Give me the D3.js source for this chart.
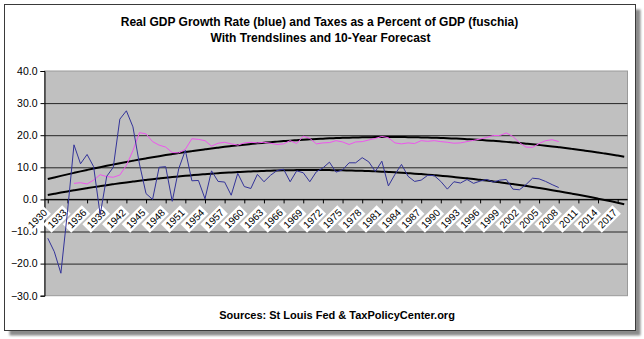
<!DOCTYPE html>
<html>
<head>
<meta charset="utf-8">
<script src="https://cdn.jsdelivr.net/npm/d3@7"></script>
<style>
  body { margin: 0; background: #fff; }
  svg { display: block; font-family: "Liberation Sans", Arial, sans-serif; }
</style>
</head>
<body>
<svg id="chart" width="644" height="339"></svg>
<script>
// Category axis: one slot per year, data through 2008 plus a 10-year forecast
const categories = d3.range(1930, 2019);
const tickLabels = ["1930","1933","1936","1939","1942","1945","1948","1951","1954","1957",
  "1960","1963","1966","1969","1972","1975","1978","1981","1984","1987","1990","1993",
  "1996","1999","2002","2005","2008","2011","2014","2017"];
const yTicks = [-30, -20, -10, 0, 10, 20, 30, 40];

// GDP growth rate (%), 1930-2008
const gdpYears = d3.range(1930, 2009);
const gdpGrowth = [
  -12.1, -16.3, -23.0, -4.0, 17.0, 11.1, 14.0, 10.2, -4.8, 7.2,
  10.0, 25.0, 27.6, 22.6, 11.0, 1.8, 0.0, 10.0, 10.2, -0.6,
  9.6, 15.3, 5.8, 5.9, 0.2, 8.9, 5.6, 5.4, 1.3, 8.1,
  4.0, 3.4, 7.8, 5.5, 7.5, 9.0, 9.4, 5.5, 8.9, 8.3,
  5.5, 8.6, 9.8, 11.6, 8.5, 9.2, 11.4, 11.4, 13.0, 11.7,
  8.7, 11.9, 4.2, 7.8, 10.9, 7.2, 5.6, 6.0, 7.5, 7.4,
  5.6, 3.2, 5.5, 5.1, 6.2, 5.0, 5.7, 6.2, 5.4, 6.0,
  6.2, 3.2, 3.0, 4.6, 6.6, 6.4, 5.6, 4.6, 3.7
];

// Federal taxes as a percent of GDP, 1934-2008
const taxYears = d3.range(1934, 2009);
const taxPct = [
  5.0, 5.2, 4.8, 6.0, 7.7, 7.1,
  6.9, 7.6, 10.6, 15.2, 20.8, 20.4, 18.0, 16.9, 16.3, 14.6,
  14.5, 15.6, 18.9, 18.7, 18.3, 16.6, 17.5, 17.8, 17.3, 16.9,
  17.6, 17.8, 17.6, 17.8, 17.5, 17.1, 17.3, 18.3, 17.4, 19.7,
  19.0, 17.3, 17.6, 17.7, 18.3, 17.9, 17.1, 17.9, 18.0, 18.5,
  19.0, 19.6, 19.2, 17.6, 17.3, 17.6, 17.4, 18.3, 18.1, 18.3,
  18.0, 17.8, 17.5, 17.6, 18.0, 18.4, 18.8, 19.3, 19.9, 19.9,
  20.7, 19.6, 17.7, 16.3, 16.2, 17.4, 18.3, 18.6, 18.0
];

const colors = { gdp: "#333399", tax: "#ee55ee", trend: "#000000", plotBg: "#c0c0c0" };

// Second-order polynomial least-squares fit (the usual chart trendline)
function quadFit(xs, ys) {
  const t = xs.map(v => (v - 1970) / 10);
  const S = [0, 0, 0, 0, 0], T = [0, 0, 0];
  t.forEach((ti, i) => {
    let p = 1;
    for (let k = 0; k < 5; k++) { S[k] += p; p *= ti; }
    T[0] += ys[i]; T[1] += ys[i] * ti; T[2] += ys[i] * ti * ti;
  });
  const A = [[S[0], S[1], S[2], T[0]], [S[1], S[2], S[3], T[1]], [S[2], S[3], S[4], T[2]]];
  for (let c = 0; c < 3; c++) {
    for (let r = c + 1; r < 3; r++) {
      const f = A[r][c] / A[c][c];
      for (let k = c; k < 4; k++) A[r][k] -= f * A[c][k];
    }
  }
  const b = [0, 0, 0];
  for (let r = 2; r >= 0; r--) {
    let s = A[r][3];
    for (let k = r + 1; k < 3; k++) s -= A[r][k] * b[k];
    b[r] = s / A[r][r];
  }
  return yr => { const u = (yr - 1970) / 10; return b[0] + b[1] * u + b[2] * u * u; };
}

const svg = d3.select("#chart");

// Outer chart frame with a soft drop shadow
const defs = svg.append("defs");
defs.append("filter").attr("id", "soft").attr("x", "-5%").attr("y", "-5%")
  .attr("width", "110%").attr("height", "110%")
  .append("feGaussianBlur").attr("stdDeviation", 1.2);
svg.append("rect").attr("x", 9.5).attr("y", 9.5).attr("width", 631).attr("height", 326)
  .attr("fill", "#8a8a8a").attr("filter", "url(#soft)");
svg.append("rect").attr("x", 4.5).attr("y", 4.5).attr("width", 631).attr("height", 326)
  .attr("fill", "#fff").attr("stroke", "#3a3a3a").attr("stroke-width", 1);

const plot = { left: 44.5, right: 627.5, top: 71, bottom: 295.7 };
const x = d3.scalePoint().domain(categories).range([plot.left, plot.right]).padding(0.5);
const y = d3.scaleLinear().domain([-30, 40]).range([plot.bottom, plot.top]);

// Plot area
svg.append("rect").attr("x", plot.left).attr("y", plot.top)
  .attr("width", plot.right - plot.left).attr("height", plot.bottom - plot.top)
  .attr("fill", colors.plotBg).attr("stroke", "#9a9a9a").attr("stroke-width", 1);

// Horizontal gridlines
svg.append("g").attr("class", "grid")
  .attr("transform", `translate(${plot.left},0)`)
  .call(d3.axisLeft(y).tickValues(yTicks.filter(v => v > -30 && v < 40))
    .tickSize(-(plot.right - plot.left)).tickFormat(""))
  .call(g => g.select(".domain").remove())
  .call(g => g.selectAll("line").attr("stroke", "#262626").attr("stroke-width", 1));

// Value axis
svg.append("g").attr("class", "y-axis")
  .attr("transform", `translate(${plot.left},0)`)
  .call(d3.axisLeft(y).tickValues(yTicks).tickSize(4).tickPadding(3).tickFormat(d3.format(".1f")))
  .call(g => g.select(".domain").attr("stroke", "#000"))
  .call(g => g.selectAll("line").attr("stroke", "#000"))
  .call(g => g.selectAll("text").attr("font-size", 10.5).attr("fill", "#000")
    .attr("font-family", "'Liberation Sans', Arial, sans-serif"));

// Category axis along the zero line
const y0 = y(0);
svg.append("g").attr("class", "x-axis")
  .attr("transform", `translate(0,${y0})`)
  .call(d3.axisBottom(x).tickValues(tickLabels.map(Number)).tickSize(4).tickFormat(""))
  .call(g => g.select(".domain").attr("stroke", "#000").attr("d", `M${plot.left},0H${plot.right}`))
  .call(g => g.selectAll("line").attr("stroke", "#000"));

// Rotated year labels on white boxes
const labels = svg.append("g").attr("class", "x-labels")
  .selectAll("g").data(tickLabels).join("g")
  .attr("transform", d => `translate(${x(+d) - 1},${y0 + 10}) rotate(-45)`);
labels.append("rect").attr("x", -27).attr("y", -6).attr("width", 27).attr("height", 12).attr("fill", "#fff");
labels.append("text").attr("x", -2).attr("dy", "0.35em").attr("text-anchor", "end")
  .attr("font-size", 10).attr("fill", "#000").text(d => d);

// Trendlines through the forecast horizon
const gdpTrend = quadFit(gdpYears, gdpGrowth);
const taxTrend = quadFit(taxYears, taxPct);
const line = d3.line().x(d => x(d[0])).y(d => y(d[1]));
[taxTrend, gdpTrend].forEach(f => {
  svg.append("path").datum(categories.map(yr => [yr, f(yr)]))
    .attr("d", line.curve(d3.curveMonotoneX)).attr("fill", "none")
    .attr("stroke", colors.trend).attr("stroke-width", 2);
});

// Data series
svg.append("path").datum(taxYears.map((yr, i) => [yr, taxPct[i]]))
  .attr("d", d3.line().x(d => x(d[0])).y(d => y(d[1])))
  .attr("fill", "none").attr("stroke", colors.tax).attr("stroke-width", 1);
svg.append("path").datum(gdpYears.map((yr, i) => [yr, gdpGrowth[i]]))
  .attr("d", d3.line().x(d => x(d[0])).y(d => y(d[1])))
  .attr("fill", "none").attr("stroke", colors.gdp).attr("stroke-width", 1);

// Titles and source note
svg.append("text").attr("x", 319.5).attr("y", 26).attr("text-anchor", "middle")
  .attr("font-size", 12).attr("font-weight", "bold")
  .text("Real GDP Growth Rate (blue) and Taxes as a Percent of GDP (fuschia)");
svg.append("text").attr("x", 320.5).attr("y", 42).attr("text-anchor", "middle")
  .attr("font-size", 12).attr("font-weight", "bold")
  .text("With Trendslines and 10-Year Forecast");
svg.append("text").attr("x", 337).attr("y", 319).attr("text-anchor", "middle")
  .attr("font-size", 11).attr("font-weight", "bold")
  .text("Sources:  St Louis Fed & TaxPolicyCenter.org");
</script>
</body>
</html>
